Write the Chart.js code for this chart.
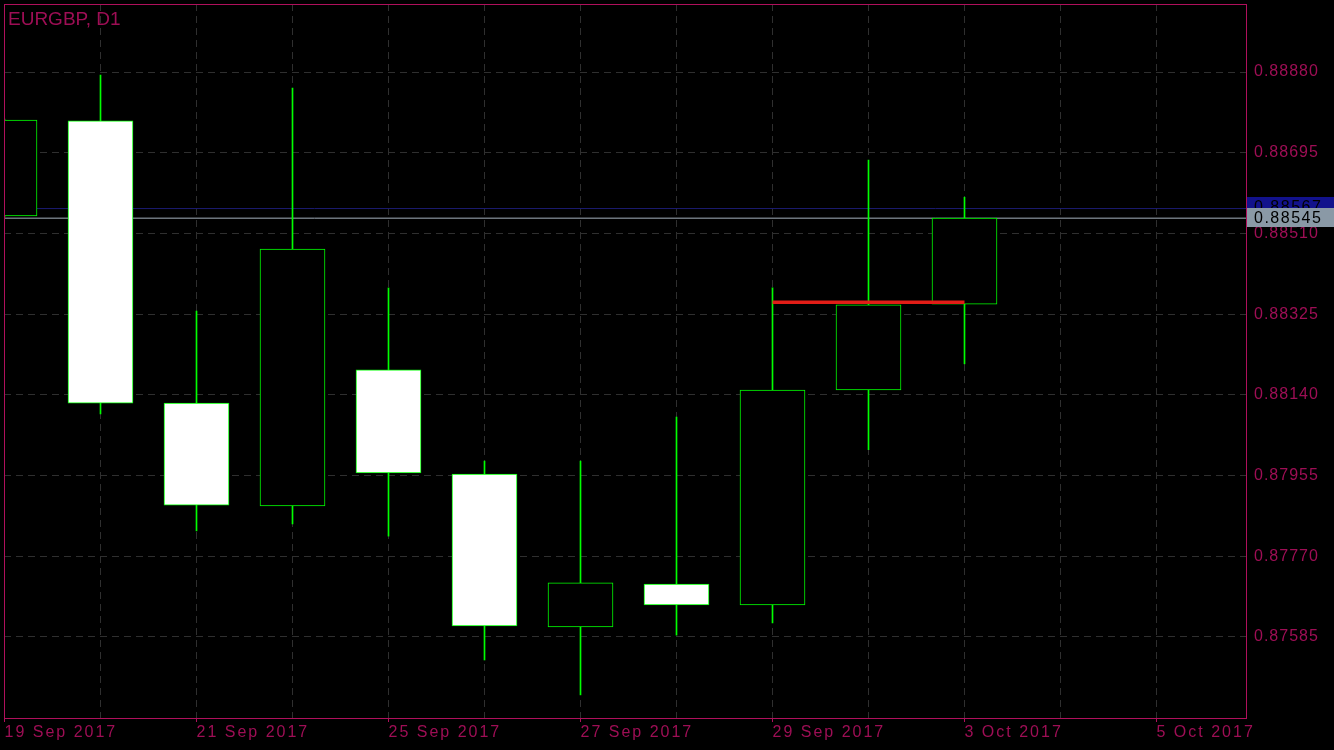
<!DOCTYPE html>
<html>
<head>
<meta charset="utf-8">
<title>EURGBP, D1</title>
<script src="https://cdn.jsdelivr.net/npm/chart.js@4.4.1/dist/chart.umd.min.js"></script>
<style>
html, body { margin: 0; padding: 0; background: #000; }
#wrap { position: relative; width: 1334px; height: 750px; }
#title { position: absolute; left: 8px; top: 9px; font: 19px "Liberation Sans", Arial, sans-serif; line-height: 19px; color: #9e0e55; }
</style>
</head>
<body>
<div id="wrap">
	<canvas id="myChart" width="1334" height="750"></canvas>
	<div id="title">EURGBP, D1</div>
</div>
<script>
// daily bars, one per trading day
var dates = ['19 Sep 2017', '20 Sep 2017', '21 Sep 2017', '22 Sep 2017', '25 Sep 2017', '26 Sep 2017',
	'27 Sep 2017', '28 Sep 2017', '29 Sep 2017', '2 Oct 2017', '3 Oct 2017', '4 Oct 2017', '5 Oct 2017'];
var opens  = [0.88550, 0.88768, 0.88121, 0.87885, 0.88197, 0.87958, 0.87608, 0.87706, 0.87658, 0.88151, 0.88348];
var highs  = [0.88772, 0.88873, 0.88332, 0.88843, 0.88385, 0.87988, 0.87988, 0.88089, 0.88385, 0.88678, 0.88593];
var lows   = [0.88548, 0.88096, 0.87828, 0.87844, 0.87816, 0.87532, 0.87452, 0.87589, 0.87617, 0.88014, 0.88211];
var closes = [0.88770, 0.88121, 0.87887, 0.88474, 0.87961, 0.87610, 0.87709, 0.87658, 0.88151, 0.88346, 0.88545];
var priceTicks = [0.87585, 0.87770, 0.87955, 0.88140, 0.88325, 0.88510, 0.88695, 0.88880];
var bidPrice = 0.88545;
var askPrice = 0.88567;
// horizontal red line object: from bar, to bar, level
var redLineBars = [8, 10];
var redLineLevel = 0.88352;

var crimson = '#9e0e55';
var frameColor = '#b0105c';
var gridColor = '#2f2f2f';
var xMin = -0.5 / 96;
var xMax = xMin + 1242 / 96;

var bodies = [], wicks = [], bodyColors = [];
for (var i = 0; i < opens.length; i++) {
	bodies.push({x: i, y: [opens[i], closes[i]]});
	wicks.push({x: i, y: [lows[i], highs[i]]});
	bodyColors.push(closes[i] < opens[i] ? '#ffffff' : '#000000');
}

function spaced(scale, sp) {
	if (scale._spaced) return;
	var orig = scale.drawLabels;
	scale.drawLabels = function(area) {
		this.ctx.save();
		this.ctx.letterSpacing = sp;
		orig.call(this, area);
		this.ctx.restore();
	};
	scale._spaced = true;
}

function noPad(s) {
	s.paddingTop = 0; s.paddingBottom = 0; s.paddingLeft = 0; s.paddingRight = 0;
}

var mtPlugin = {
	id: 'mt',
	beforeDraw: function(chart) {
		var c = chart.ctx;
		c.save();
		c.fillStyle = '#000';
		c.fillRect(0, 0, chart.width, chart.height);
		c.restore();
		spaced(chart.scales.x, '2px');
		spaced(chart.scales.y, '1px');
	},
	afterDraw: function(chart) {
		var c = chart.ctx, a = chart.chartArea, y = chart.scales.y;
		c.save();
		c.strokeStyle = frameColor;
		c.lineWidth = 1;
		c.strokeRect(a.left + 0.5, a.top + 0.5, a.right - a.left, a.bottom - a.top);
		c.font = '16px "Liberation Sans", Arial, sans-serif';
		c.letterSpacing = '1.5px';
		c.textBaseline = 'middle';
		var ya = y.getPixelForValue(askPrice);
		c.fillStyle = '#12128c';
		c.fillRect(a.right + 1, Math.round(ya) - 12, chart.width - a.right, 20);
		c.fillStyle = '#000';
		c.fillText(askPrice.toFixed(5), a.right + 8, ya - 1);
		var yb = y.getPixelForValue(bidPrice);
		c.fillStyle = '#8a99a6';
		c.fillRect(a.right + 1, Math.round(yb) - 10, chart.width - a.right, 19);
		c.fillStyle = '#000';
		c.fillText(bidPrice.toFixed(5), a.right + 8, yb);
		c.restore();
	}
};

window.onload = function() {
	var ctx = document.getElementById('myChart').getContext('2d');
	var chart = new Chart(ctx, {
		type: 'bar',
		data: {
			datasets: [{
				type: 'line',
				data: [{x: redLineBars[0], y: redLineLevel}, {x: redLineBars[1], y: redLineLevel}],
				borderColor: '#e21d17',
				borderWidth: 3.5,
				pointRadius: 0
			}, {
				data: bodies,
				backgroundColor: bodyColors,
				borderColor: '#00ff00',
				borderWidth: 1,
				borderSkipped: false,
				grouped: false,
				maxBarThickness: 65,
				barPercentage: 1,
				categoryPercentage: 1,
				clip: 0
			}, {
				data: wicks,
				backgroundColor: '#00ff00',
				borderWidth: 0,
				grouped: false,
				maxBarThickness: 1,
				barPercentage: 1,
				categoryPercentage: 1,
				clip: 0
			}, {
				type: 'line',
				data: [{x: xMin, y: bidPrice}, {x: xMax, y: bidPrice}],
				borderColor: '#a4b0bd',
				borderWidth: 1,
				pointRadius: 0
			}, {
				type: 'line',
				data: [{x: xMin, y: askPrice}, {x: xMax, y: askPrice}],
				borderColor: '#1b1b70',
				borderWidth: 1,
				pointRadius: 0
			}]
		},
		options: {
			responsive: false,
			animation: false,
			events: [],
			layout: { autoPadding: false, padding: {left: 4, top: 4, right: 0, bottom: 0} },
			plugins: { legend: {display: false}, tooltip: {enabled: false}, title: {display: false} },
			scales: {
				x: {
					type: 'linear',
					min: xMin,
					max: xMax,
					offset: false,
					afterBuildTicks: function(s) { s.ticks = dates.map(function(d, i) { return {value: i}; }); },
					afterFit: function(s) { s.height = 32; noPad(s); },
					grid: {
						offset: false,
						color: function(c) { return c.index === 0 ? 'transparent' : gridColor; },
						tickColor: function(c) { return c.index % 2 === 0 ? frameColor : 'transparent'; },
						tickLength: 4,
						tickBorderDash: []
					},
					border: { display: false, dash: [7, 5] },
					ticks: {
						autoSkip: false,
						maxRotation: 0,
						minRotation: 0,
						align: 'start',
						padding: 1,
						color: crimson,
						font: { family: '"Liberation Sans", Arial, sans-serif', size: 16 },
						callback: function(v, i) { return i % 2 === 0 ? dates[i] : ''; }
					}
				},
				y: {
					position: 'right',
					min: 0.87399,
					max: 0.89036,
					afterBuildTicks: function(s) { s.ticks = priceTicks.map(function(v) { return {value: v}; }); },
					afterFit: function(s) { s.width = 88; noPad(s); },
					grid: { color: gridColor, drawTicks: false },
					border: { display: false, dash: [7, 5] },
					ticks: {
						padding: 8,
						color: crimson,
						font: { family: '"Liberation Sans", Arial, sans-serif', size: 16 },
						callback: function(v) { return v.toFixed(5); }
					}
				}
			}
		},
		plugins: [mtPlugin]
	});
};
</script>
</body>
</html>
